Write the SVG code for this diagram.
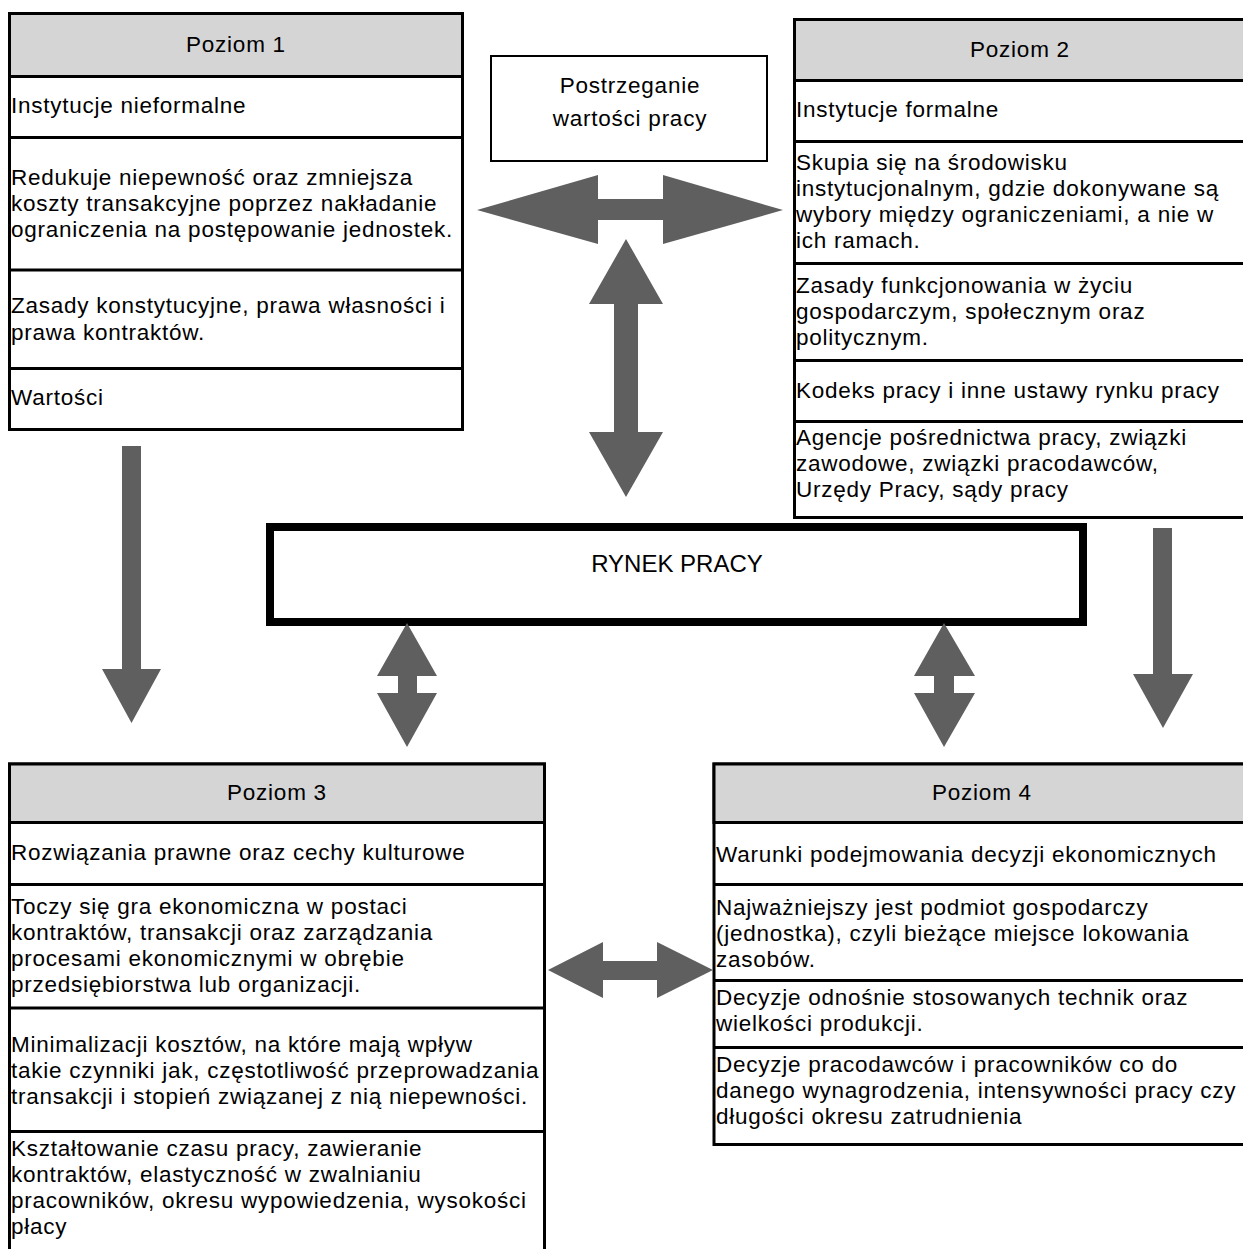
<svg xmlns="http://www.w3.org/2000/svg" width="1243" height="1249" viewBox="0 0 1243 1249">
<style>
  .box { fill: #ffffff; stroke: #000000; stroke-width: 3; }
  .hdr { fill: #d5d5d5; stroke: #000000; stroke-width: 3; }
  .div { stroke: #000000; stroke-width: 3; }
  .t { font-family: "Liberation Sans", Arial, sans-serif; font-size: 22.5px; letter-spacing: 0.75px; fill: #000000; }
  .c { text-anchor: middle; }
  .big { font-size: 24px; letter-spacing: 0px; }
  .arrow { fill: #5f5f5f; stroke: none; }
</style>
<rect width="1243" height="1249" fill="#ffffff"/>

<g id="poziom1">
  <rect class="box" x="9.5" y="13.5" width="453" height="416"/>
  <rect class="hdr" x="9.5" y="13.5" width="453" height="63"/>
  <line class="div" x1="9.5" y1="137.5" x2="462.5" y2="137.5"/>
  <line class="div" x1="9.5" y1="270" x2="462.5" y2="270"/>
  <line class="div" x1="9.5" y1="368.5" x2="462.5" y2="368.5"/>
  <text class="t c" x="236" y="52">Poziom 1</text>
  <text class="t" x="11" y="113">Instytucje nieformalne</text>
  <text class="t" x="11" y="185">Redukuje niepewność oraz zmniejsza</text>
  <text class="t" x="11" y="211">koszty transakcyjne poprzez nakładanie</text>
  <text class="t" x="11" y="237">ograniczenia na postępowanie jednostek.</text>
  <text class="t" x="11" y="313">Zasady konstytucyjne, prawa własności i</text>
  <text class="t" x="11" y="340">prawa kontraktów.</text>
  <text class="t" x="11" y="405">Wartości</text>
</g>

<g id="postrzeganie">
  <rect x="491" y="56" width="276" height="105" fill="#ffffff" stroke="#000000" stroke-width="2"/>
  <text class="t c" x="630" y="93">Postrzeganie</text>
  <text class="t c" x="630" y="126">wartości pracy</text>
</g>

<g id="poziom2">
  <rect class="box" x="794.5" y="19.5" width="460" height="498"/>
  <rect class="hdr" x="794.5" y="19.5" width="460" height="61"/>
  <line class="div" x1="794.5" y1="141.5" x2="1250" y2="141.5"/>
  <line class="div" x1="794.5" y1="263.5" x2="1250" y2="263.5"/>
  <line class="div" x1="794.5" y1="360.5" x2="1250" y2="360.5"/>
  <line class="div" x1="794.5" y1="421.5" x2="1250" y2="421.5"/>
  <text class="t c" x="1020" y="57">Poziom 2</text>
  <text class="t" x="796" y="117">Instytucje formalne</text>
  <text class="t" x="796" y="170">Skupia się na środowisku</text>
  <text class="t" x="796" y="196">instytucjonalnym, gdzie dokonywane są</text>
  <text class="t" x="796" y="222">wybory między ograniczeniami, a nie w</text>
  <text class="t" x="796" y="248">ich ramach.</text>
  <text class="t" x="796" y="293">Zasady funkcjonowania w życiu</text>
  <text class="t" x="796" y="319">gospodarczym, społecznym oraz</text>
  <text class="t" x="796" y="345">politycznym.</text>
  <text class="t" x="796" y="398">Kodeks pracy i inne ustawy rynku pracy</text>
  <text class="t" x="796" y="445">Agencje pośrednictwa pracy, związki</text>
  <text class="t" x="796" y="471">zawodowe, związki pracodawców,</text>
  <text class="t" x="796" y="497">Urzędy Pracy, sądy pracy</text>
</g>

<g id="rynek">
  <rect x="270" y="527" width="813" height="95" fill="#ffffff" stroke="#000000" stroke-width="8"/>
  <text class="t c big" x="677" y="572">RYNEK PRACY</text>
</g>

<g id="poziom3">
  <path class="box" d="M9.5,1260 V764 H544.5 V1260"/>
  <rect class="hdr" x="9.5" y="764" width="535" height="58.5"/>
  <line class="div" x1="9.5" y1="884.5" x2="544.5" y2="884.5"/>
  <line class="div" x1="9.5" y1="1008" x2="544.5" y2="1008"/>
  <line class="div" x1="9.5" y1="1131.5" x2="544.5" y2="1131.5"/>
  <text class="t c" x="277" y="800">Poziom 3</text>
  <text class="t" x="11" y="860">Rozwiązania prawne oraz cechy kulturowe</text>
  <text class="t" x="11" y="914">Toczy się gra ekonomiczna w postaci</text>
  <text class="t" x="11" y="940">kontraktów, transakcji oraz zarządzania</text>
  <text class="t" x="11" y="966">procesami ekonomicznymi w obrębie</text>
  <text class="t" x="11" y="992">przedsiębiorstwa lub organizacji.</text>
  <text class="t" x="11" y="1052">Minimalizacji kosztów, na które mają wpływ</text>
  <text class="t" x="11" y="1078">takie czynniki jak, częstotliwość przeprowadzania</text>
  <text class="t" x="11" y="1104">transakcji i stopień związanej z nią niepewności.</text>
  <text class="t" x="11" y="1156">Kształtowanie czasu pracy, zawieranie</text>
  <text class="t" x="11" y="1182">kontraktów, elastyczność w zwalnianiu</text>
  <text class="t" x="11" y="1208">pracowników, okresu wypowiedzenia, wysokości</text>
  <text class="t" x="11" y="1234">płacy</text>
</g>

<g id="poziom4">
  <rect class="box" x="714" y="764" width="540" height="380.5"/>
  <rect class="hdr" x="714" y="764" width="540" height="58.5"/>
  <line class="div" x1="714" y1="884.5" x2="1250" y2="884.5"/>
  <line class="div" x1="714" y1="980.5" x2="1250" y2="980.5"/>
  <line class="div" x1="714" y1="1047.5" x2="1250" y2="1047.5"/>
  <text class="t c" x="982" y="800">Poziom 4</text>
  <text class="t" x="716" y="862">Warunki podejmowania decyzji ekonomicznych</text>
  <text class="t" x="716" y="915">Najważniejszy jest podmiot gospodarczy</text>
  <text class="t" x="716" y="941">(jednostka), czyli bieżące miejsce lokowania</text>
  <text class="t" x="716" y="967">zasobów.</text>
  <text class="t" x="716" y="1005">Decyzje odnośnie stosowanych technik oraz</text>
  <text class="t" x="716" y="1031">wielkości produkcji.</text>
  <text class="t" x="716" y="1072">Decyzje pracodawców i pracowników co do</text>
  <text class="t" x="716" y="1098">danego wynagrodzenia, intensywności pracy czy</text>
  <text class="t" x="716" y="1124">długości okresu zatrudnienia</text>
</g>

<g id="connectors">
  <polygon class="arrow" points="477,210 598,175 598,199 663,199 663,175 783,210 663,244 663,220 598,220 598,244"/>
  <polygon class="arrow" points="626,239 663,304 638,304 638,432 663,432 626,497 589,432 614,432 614,304 589,304"/>
  <polygon class="arrow" points="122,446 141,446 141,669 161,669 131.5,723 102,669 122,669"/>
  <polygon class="arrow" points="1153,528 1172,528 1172,674 1193,674 1163,728 1133,674 1153,674"/>
  <polygon class="arrow" points="407,623 437,676 417,676 417,693 437,693 407,747 377,693 398,693 398,676 377,676"/>
  <polygon class="arrow" points="944,623 975,676 954,676 954,693 975,693 944,747 914,693 934,693 934,676 914,676"/>
  <polygon class="arrow" points="548,970 603,942 603,961 657,961 657,942 713,970 657,998 657,980 603,980 603,998"/>
</g>
</svg>
